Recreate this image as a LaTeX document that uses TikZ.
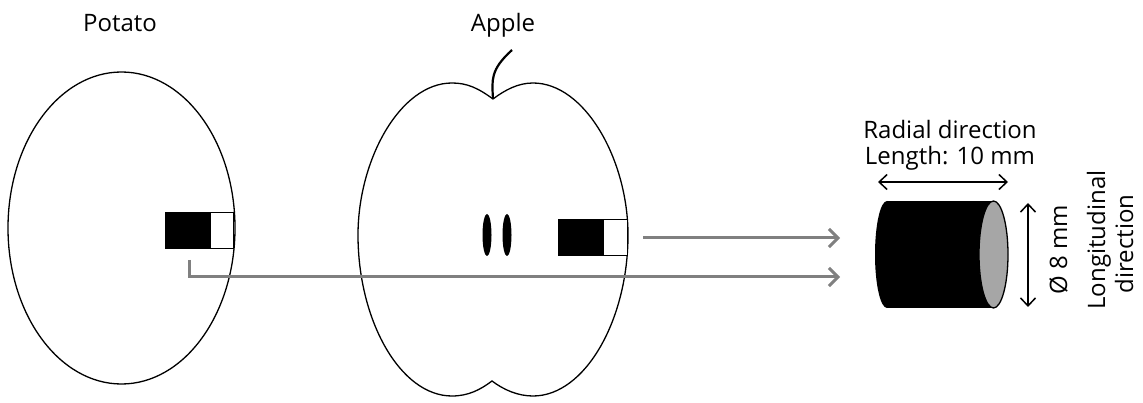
\documentclass[tikz,border=0pt]{standalone}
\usepackage{fontspec}
\setmainfont{Open Sans}
\usetikzlibrary{arrows.meta}
\definecolor{cylgray}{RGB}{166,166,166}
\definecolor{flowgray}{RGB}{128,128,128}
\begin{document}
\begin{tikzpicture}[x=1pt,y=-1pt,
  outline/.style={draw=black, line width=1.3pt},
  txt/.style={font=\fontsize{24}{27}\selectfont, inner sep=0pt},
  sampleblack/.style={fill=black, draw=black, line width=1pt, inner sep=0pt, anchor=north west, minimum height=36pt},
  samplewhite/.style={fill=white, draw=black, line width=1pt, inner sep=0pt, anchor=north west, minimum height=36pt},
  flow/.style={draw=flowgray, line width=3pt, -{Straight Barb[length=9pt,width=18pt]}},
  dim/.style={line width=1.5pt, {Straight Barb[length=8pt,width=15pt]}-{Straight Barb[length=8pt,width=15pt]}}]
\useasboundingbox[fill=white] (0,0) rectangle (1143,403);

% labels
\node[txt, anchor=base] (potatolabel) at (120,32) {Potato};
\node[txt, anchor=base] (applelabel) at (503,32) {Apple};

% potato
\draw[outline] (121.5,228) ellipse [x radius=113.5, y radius=156];
\node[sampleblack, minimum width=45pt] (pb) at (165,212) {};
\node[samplewhite, minimum width=23pt] (pw) at (210,212) {};

% apple
\draw[outline] (493,99) .. controls (478,88) and (467,83) .. (452,83)
  .. controls (400,83) and (358,160) .. (358,235)
  .. controls (358,320) and (400,396) .. (452,396)
  .. controls (468,396) and (480,390) .. (492,381)
  .. controls (504,390) and (518,396) .. (533,396)
  .. controls (585,396) and (628,320) .. (628,235)
  .. controls (628,160) and (585,83) .. (533,83)
  .. controls (518,83) and (505,90) .. (493,99);
\draw[line width=2.2pt] (493,99) .. controls (492,80) and (490,70) .. (512,50);
\fill (487,235) ellipse [x radius=4.5, y radius=21];
\fill (507,235) ellipse [x radius=4.5, y radius=21];
\node[sampleblack, minimum width=45pt] (ab) at (558,219) {};
\node[samplewhite, minimum width=24pt] (aw) at (603,219) {};

% connectors
\coordinate (s1) at (643,238);
\coordinate (e1) at (840,238);
\coordinate (s2) at (189,260);
\coordinate (e2) at (840,277);
\draw[flow] (s1) -- (e1);
\draw[flow] (s2) |- (e2);

% cylinder
\fill (887,201) rectangle (993.5,308);
\fill (887,254.5) ellipse [x radius=12, y radius=53.5];
\draw[fill=cylgray, line width=1.3pt] (993.5,254.5) ellipse [x radius=14.5, y radius=53.5];

% dimension arrows
\coordinate (hl) at (878,182);
\coordinate (hr) at (1008,182);
\coordinate (vt) at (1028,203);
\coordinate (vb) at (1028,307);
\draw[dim] (hl) -- (hr);
\draw[dim] (vt) -- (vb);

% dimension texts
\node[txt, anchor=base] (radial) at (950,139) {Radial direction};
\node[txt, anchor=base] (length) at (950,165) {Length: 10 mm};
\node[txt, anchor=base, rotate=90] (diam) at (1067,250) {Ø 8 mm};
\node[txt, anchor=base, rotate=90] (longi) at (1105,240) {Longitudinal};
\node[txt, anchor=base, rotate=90] (direc) at (1133,244) {direction};
\end{tikzpicture}
\end{document}
